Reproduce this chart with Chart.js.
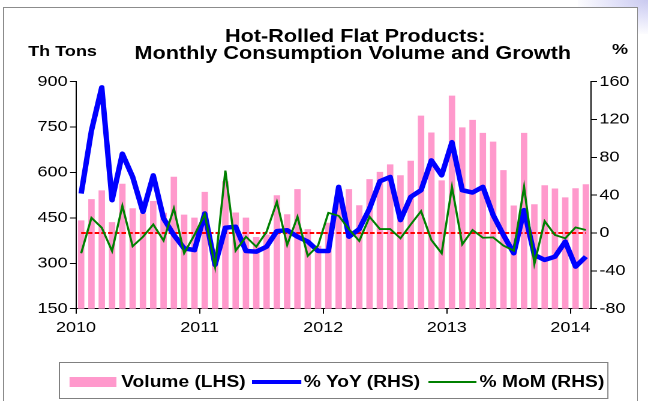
<!DOCTYPE html>
<html>
<head>
<meta charset="utf-8">
<script src="https://cdn.jsdelivr.net/npm/chart.js@4.4.1/dist/chart.umd.min.js"></script>
<style>
  html, body { margin: 0; padding: 0; background: #fff; }
  body { width: 648px; height: 401px; position: relative; overflow: hidden; font-family: 'Liberation Sans', Arial, sans-serif; }
  .corner { position: absolute; right: 0; top: 0; width: 70px; height: 34px;
    background: radial-gradient(ellipse at 100% 0%, #c9c9ef 0%, rgba(214,214,246,0.7) 35%, rgba(255,255,255,0) 75%); }
  .frame { position: absolute; left: 3px; top: 7px; width: 633px; height: 400px; border: 1px solid #8c8c8c; background: #fff; }
  /* the source picture is stretched sideways, so draw narrow and widen */
  .stretch { position: absolute; left: 0; top: 0; width: 540px; height: 401px; transform: scaleX(1.2); transform-origin: 0 0; }
  #legend { position: absolute; left: 49px; top: 362px; width: 458px; height: 37px; box-sizing: border-box;
    border: 1px solid #808080; padding-top: 3px; display: flex; align-items: center;
    font-weight: bold; font-size: 16px; color: #000; white-space: nowrap; }
  #legend .sw { display: inline-block; flex: none; }
</style>
</head>
<body>
<div class="corner"></div>
<div class="frame"></div>
<div class="stretch">
  <canvas id="hrChart" width="540" height="401"></canvas>
  <div id="legend"></div>
</div>
<script>
// monthly data, Jan 2010 .. Feb 2014
const yearLabels = ['2010', '2011', '2012', '2013', '2014'];
const monthNames = ['Jan','Feb','Mar','Apr','May','Jun','Jul','Aug','Sep','Oct','Nov','Dec'];

const volume = [442, 512, 541, 436, 563, 482, 465, 506, 467, 586, 461, 451,
                536, 346, 571, 468, 451, 387, 395, 525, 462, 545, 413, 358,
                434, 518, 545, 492, 578, 602, 627, 591, 639, 788, 732, 574,
                854, 749, 774, 731, 702, 608, 491, 731, 495, 558, 547, 518,
                548, 561];

const yoy = [41.7, 108.4, 154, 34.7, 83.9, 59.3, 22.4, 61, 15.4, -2.1, -16.2, -18,
             20.7, -33.7, 5.6, 6.7, -19, -19.7, -14.4, 2, 3, -3.9, -9, -19,
             -19, 48.8, -3.9, 4.2, 26, 54.7, 59.3, 13.7, 38.2, 45.3, 76.8, 61,
             96.1, 45.3, 42.8, 48.8, 19, -2.1, -21.4, 24.2, -23.2, -28.4, -25, -9.1,
             -35.5, -25];

const mom = [-21.4, 16.1, 5.6, -19, 28.8, -14, -4, 9.1, -8, 26, -21.4, -2,
             20, -35.5, 66, -18.6, -3.9, -14.4, 1.4, 33, -12.6, 17.2, -24.2, -13.3,
             21.4, 18.2, 4, -8.4, 17.2, 4.2, 4.2, -5.6, 9.1, 23.1, -7.4, -21.4,
             48.8, -12, 3.2, -5, -4.6, -13.3, -18.6, 48.8, -32.6, 12.6, -2.1, -5.6,
             6, 3.2];

const leftTicks = [150, 300, 450, 600, 750, 900];
const rightTicks = [-80, -40, 0, 40, 80, 120, 160];

const titleLines = ['Hot-Rolled Flat Products:', 'Monthly Consumption Volume and Growth'];
const leftTitle = 'Th Tons';
const rightTitle = '%';

const months = volume.map((v, i) => monthNames[i % 12] + ' ' + yearLabels[Math.floor(i / 12)]);
// each month sits in the middle of its slot on a linear axis
const pts = arr => arr.map((v, i) => ({ x: i + 0.5, y: v }));

const FONT = "'Liberation Sans', Arial, sans-serif";

const zeroLine = {
  id: 'zeroLine',
  afterDatasetDraw(chart, args) {
    if (args.index !== 0) return;
    const xs = chart.scales.x, yr = chart.scales.yR, ctx = chart.ctx;
    const y0 = yr.getPixelForValue(0);
    ctx.save();
    ctx.strokeStyle = '#ff0000';
    ctx.lineWidth = 2;
    ctx.setLineDash([3.8, 1.8]);
    ctx.beginPath();
    ctx.moveTo(xs.getPixelForValue(0.5), y0);
    ctx.lineTo(xs.getPixelForValue(volume.length - 0.5), y0);
    ctx.stroke();
    ctx.restore();
  }
};

const headerText = {
  id: 'headerText',
  afterDraw(chart) {
    const ctx = chart.ctx;
    ctx.save();
    ctx.fillStyle = '#000';
    ctx.textBaseline = 'alphabetic';
    ctx.font = 'bold 18px ' + FONT;
    ctx.textAlign = 'center';
    ctx.fillText(titleLines[0], 296, 42);
    ctx.fillText(titleLines[1], 294, 59);
    ctx.font = 'bold 15px ' + FONT;
    ctx.textAlign = 'left';
    ctx.fillText(leftTitle, 23.5, 56);
    ctx.fillText(rightTitle, 510, 54);
    ctx.restore();
  }
};

const tickFont = { family: FONT, size: 15 };

const chart = new Chart(document.getElementById('hrChart'), {
  type: 'bar',
  data: {
    datasets: [{
      type: 'bar',
      label: 'Volume (LHS)',
      data: pts(volume),
      yAxisID: 'y',
      backgroundColor: '#ff99cc',
      borderWidth: 0,
      barPercentage: 0.78,
      categoryPercentage: 0.8,
      order: 3
    }, {
      type: 'line',
      label: '% YoY (RHS)',
      data: pts(yoy),
      yAxisID: 'yR',
      borderColor: '#0000ff',
      backgroundColor: '#0000ff',
      borderWidth: 4.5,
      borderJoinStyle: 'round',
      pointRadius: 0,
      tension: 0,
      order: 2
    }, {
      type: 'line',
      label: '% MoM (RHS)',
      data: pts(mom),
      yAxisID: 'yR',
      borderColor: '#008000',
      backgroundColor: '#008000',
      borderWidth: 1.8,
      pointRadius: 0,
      tension: 0,
      order: 1
    }]
  },
  options: {
    responsive: false,
    devicePixelRatio: 2,
    animation: false,
    events: [],
    layout: { padding: { top: 81.7, left: 0, right: 0, bottom: 0 } },
    plugins: {
      legend: { display: false },
      title: { display: false },
      tooltip: { enabled: false }
    },
    scales: {
      x: {
        type: 'linear',
        offset: false,
        min: 0,
        max: volume.length,
        afterBuildTicks: s => { s.ticks = yearLabels.map((y, i) => ({ value: i * 12 })); },
        afterFit: s => { s.height = 92.3; },
        ticks: {
          autoSkip: false, maxRotation: 0, color: '#000', font: tickFont, padding: 5,
          callback: v => yearLabels[Math.round(v / 12)]
        },
        grid: { offset: false, drawOnChartArea: false, tickLength: 5, color: '#000' },
        border: { color: '#000', width: 1 }
      },
      y: {
        position: 'left',
        min: leftTicks[0],
        max: leftTicks[leftTicks.length - 1],
        afterFit: s => { s.width = 63.33; },
        ticks: { stepSize: leftTicks[1] - leftTicks[0], color: '#000', font: tickFont, padding: 2 },
        grid: { drawOnChartArea: false, tickLength: 5, color: '#000' },
        border: { color: '#000', width: 1 }
      },
      yR: {
        position: 'right',
        min: rightTicks[0],
        max: rightTicks[rightTicks.length - 1],
        afterFit: s => { s.width = 47.5; },
        ticks: { stepSize: rightTicks[1] - rightTicks[0], color: '#000', font: tickFont, padding: 2 },
        grid: { drawOnChartArea: false, tickLength: 5, color: '#000' },
        border: { color: '#000', width: 1 }
      }
    }
  },
  plugins: [zeroLine, headerText]
});

// legend built from the datasets
const swatches = [
  { ml: 8, w: 39, h: 10, gap: 4 },
  { ml: 5.5, w: 41, h: 4.5, gap: 2 },
  { ml: 6.8, w: 40, h: 2, gap: 2.7 }
];
document.getElementById('legend').innerHTML = chart.data.datasets.map((ds, i) => {
  const s = swatches[i];
  const col = ds.type === 'bar' ? ds.backgroundColor : ds.borderColor;
  return `<span class="sw" style="margin-left:${s.ml}px;width:${s.w}px;height:${s.h}px;background:${col}"></span>` +
         `<span style="margin-left:${s.gap}px">${ds.label}</span>`;
}).join('');
</script>
</body>
</html>
